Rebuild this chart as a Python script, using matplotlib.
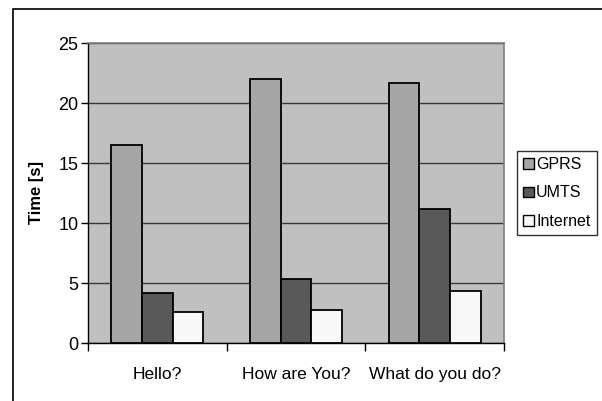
import matplotlib
matplotlib.use("Agg")
import matplotlib.pyplot as plt
from matplotlib.patches import Rectangle
import numpy as np

plt.rcParams['font.family'] = ['Liberation Sans', 'DejaVu Sans']

categories = ["Hello?", "How are You?", "What do you do?"]
series_names = ["GPRS", "UMTS", "Internet"]
gprs = [16.5, 22.0, 21.65]
umts = [4.2, 5.3, 11.2]
internet = [2.55, 2.75, 4.35]
yticks = [0, 5, 10, 15, 20, 25]

colors = ["#A6A6A6", "#595959", "#F8F8F8"]

fig = plt.figure(figsize=(6.02, 4.01), dpi=100)
fig.patch.set_facecolor("white")

# outer frame
fig.patches.append(Rectangle((13/602, -0.1), 1.2, 1 - 9/401 + 0.1, transform=fig.transFigure,
                             fill=False, edgecolor="black", linewidth=1.2, zorder=0))

ax = fig.add_axes([88/602, 1 - 343/401, 416/602, 300/401])
ax.set_facecolor("#C0C0C0")

x = np.arange(len(categories))
w = 0.221
for i, (vals, name) in enumerate(zip([gprs, umts, internet], series_names)):
    ax.bar(x + (i - 1) * w, vals, width=w, color=colors[i], edgecolor="black",
           linewidth=1.3, label=name, zorder=3)

ax.set_xlim(-0.5, 2.5)
ax.set_ylim(0, 25)
ax.set_yticks(yticks)
ax.set_yticklabels([str(t) for t in yticks], fontsize=13)
ax.yaxis.grid(True, color="#3a3a3a", linewidth=1.0, zorder=1)
ax.set_axisbelow(True)

ax.set_xticks(x)
ax.set_xticklabels(categories, fontsize=12.5)
ax.tick_params(axis='x', which='major', length=0, pad=17)
ax.set_xticks([-0.5, 0.5, 1.5, 2.5], minor=True)
ax.tick_params(axis='x', which='minor', length=6, width=1, direction='out', color='black')
ax.tick_params(axis='y', length=5, width=1, direction='out', pad=2)

for s in ["top", "right"]:
    ax.spines[s].set_color("#808080")
    ax.spines[s].set_linewidth(1.2)
for s in ["left", "bottom"]:
    ax.spines[s].set_color("black")
    ax.spines[s].set_linewidth(1.0)

ax.set_ylabel("Time [s]", fontsize=12, fontweight="bold", labelpad=10)

leg = fig.legend(loc="center", bbox_to_anchor=(557/602, 1 - 193/401), fontsize=11.5,
                 frameon=True, fancybox=False, edgecolor="black", handlelength=0.65,
                 handleheight=0.65, handletextpad=0.15, labelspacing=0.85, borderpad=0.4,
                 borderaxespad=0)
leg.get_frame().set_linewidth(1.0)
for h in leg.legend_handles:
    h.set_linewidth(1.0)

fig.savefig("out.png", dpi=100)
